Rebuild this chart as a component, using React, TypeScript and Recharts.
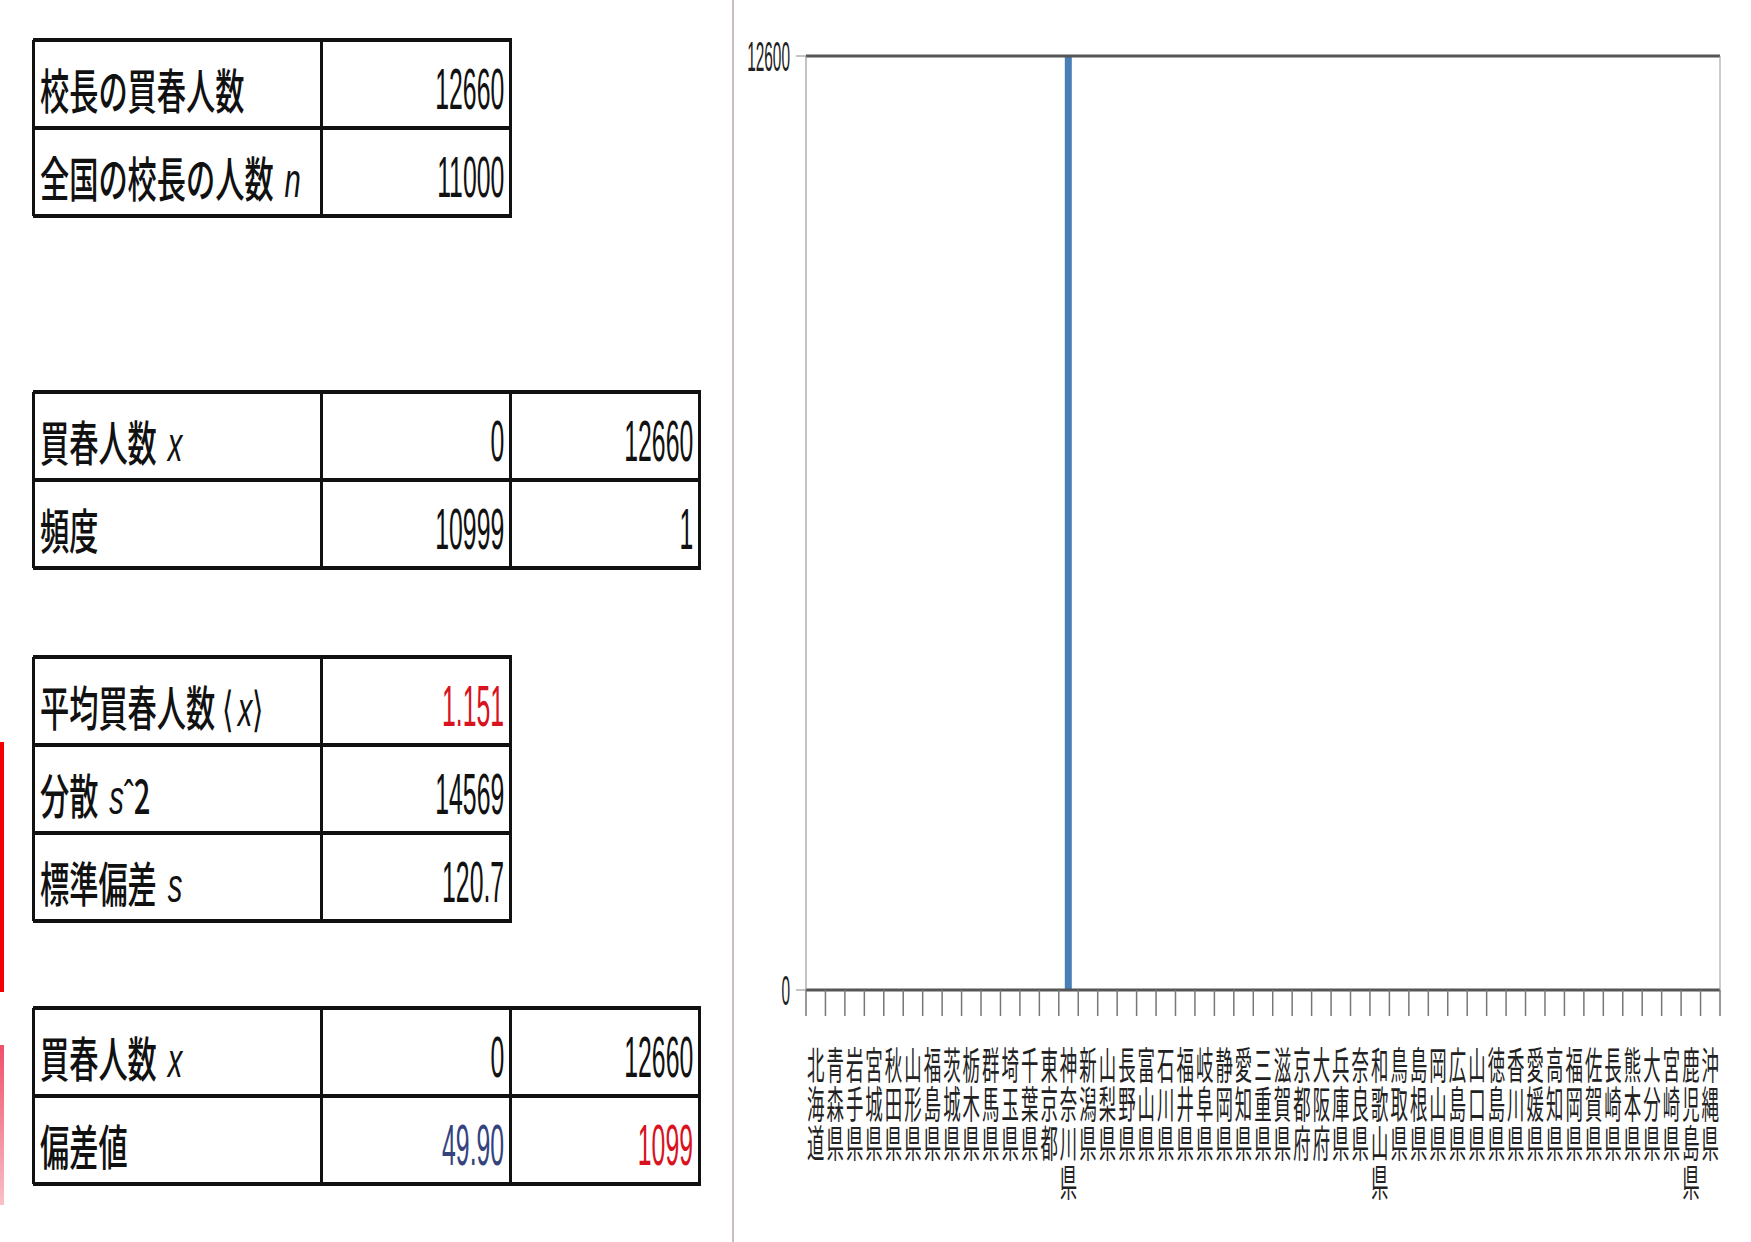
import React from 'react';
import { BarChart, Bar, XAxis, YAxis, ReferenceLine } from 'recharts';

// prefectures in the order they appear on the sheet
const PREFECTURES = [
  '北海道', '青森県', '岩手県', '宮城県', '秋田県', '山形県', '福島県', '茨城県', '栃木県', '群馬県',
  '埼玉県', '千葉県', '東京都', '神奈川県', '新潟県', '山梨県', '長野県', '富山県', '石川県', '福井県',
  '岐阜県', '静岡県', '愛知県', '三重県', '滋賀県', '京都府', '大阪府', '兵庫県', '奈良県', '和歌山県',
  '鳥取県', '島根県', '岡山県', '広島県', '山口県', '徳島県', '香川県', '愛媛県', '高知県', '福岡県',
  '佐賀県', '長崎県', '熊本県', '大分県', '宮崎県', '鹿児島県', '沖縄県',
];
const COUNTS = [
  0, 0, 0, 0, 0, 0, 0, 0, 0, 0,
  0, 0, 0, 12660, 0, 0, 0, 0, 0, 0,
  0, 0, 0, 0, 0, 0, 0, 0, 0, 0,
  0, 0, 0, 0, 0, 0, 0, 0, 0, 0,
  0, 0, 0, 0, 0, 0, 0,
];
const Y_TICKS = [0, 12600];

type Part = string | { i: string };

const T1_LABELS: Part[][] = [['校長の買春人数'], ['全国の校長の人数 ', { i: 'n' }]];
const T1_VALUES = ['12660', '11000'];

const T2_LABELS: Part[][] = [['買春人数 ', { i: 'x' }], ['頻度']];
const T2_COL1 = ['0', '10999'];
const T2_COL2 = ['12660', '1'];

const T3_LABELS: Part[][] = [['平均買春人数 ⟨', { i: 'x' }, '⟩'], ['分散 ', { i: 's' }, 'ˆ2'], ['標準偏差 ', { i: 's' }]];
const T3_VALUES = ['1.151', '14569', '120.7'];
const T3_COLORS = ['#d8131f', '#111', '#111'];

const T4_LABELS: Part[][] = [['買春人数 ', { i: 'x' }], ['偏差値']];
const T4_COL1 = ['0', '49.90'];
const T4_COL1_COLORS = ['#111', '#34437e'];
const T4_COL2 = ['12660', '1099'];
const T4_COL2_COLORS = ['#111', '#d8131f'];

const ROW_H = 88;
const COLS3 = [33, 321, 510];
const COLS4 = [33, 321, 510, 699];

const chartData = PREFECTURES.map((name, i) => ({ name, value: COUNTS[i] }));

type Cell = { text: string; color?: string };
type Row = { label: Part[]; cells: Cell[] };

function Label({ parts }: { parts: Part[] }) {
  return (
    <span
      style={{
        display: 'inline-block',
        fontFamily: '"Noto Sans CJK JP", sans-serif',
        fontSize: 40,
        fontWeight: 500,
        transform: 'scale(0.73, 1.2)',
        transformOrigin: 'left center',
        whiteSpace: 'pre',
        color: '#111',
      }}
    >
      {parts.map((p, k) =>
        typeof p === 'string' ? (
          <span key={k}>{p}</span>
        ) : (
          <span key={k} style={{ fontFamily: '"Liberation Sans", sans-serif', fontStyle: 'italic', marginLeft: 6 }}>
            {p.i}
          </span>
        )
      )}
    </span>
  );
}

function SheetTable({ top, cols, rows }: { top: number; cols: number[]; rows: Row[] }) {
  const left = cols[0];
  const right = cols[cols.length - 1];
  const bottom = top + rows.length * ROW_H;
  const els: React.ReactNode[] = [];
  rows.forEach((r, ri) => {
    const y = top + ri * ROW_H;
    els.push(
      <div
        key={`l${ri}`}
        style={{ position: 'absolute', left: left + 7, top: y + 5, height: ROW_H, display: 'flex', alignItems: 'center' }}
      >
        <Label parts={r.label} />
      </div>
    );
    r.cells.forEach((c, ci) => {
      const cr = cols[ci + 2];
      els.push(
        <div
          key={`c${ri}-${ci}`}
          style={{
            position: 'absolute',
            left: cols[ci + 1],
            width: cr - cols[ci + 1] - 6,
            top: y + 5,
            height: ROW_H,
            display: 'flex',
            alignItems: 'center',
            justifyContent: 'flex-end',
          }}
        >
          <span
            style={{
              display: 'inline-block',
              fontFamily: '"Liberation Sans", Arial, sans-serif',
              fontSize: 40,
              transform: 'scale(0.62, 1.45)',
              transformOrigin: 'right center',
              color: c.color || '#111',
            }}
          >
            {c.text}
          </span>
        </div>
      );
    });
  });
  for (let ri = 0; ri <= rows.length; ri++) {
    els.push(
      <div
        key={`h${ri}`}
        style={{ position: 'absolute', left, top: top + ri * ROW_H - 2, width: right - left + 2, height: 4, background: '#111' }}
      />
    );
  }
  cols.forEach((cx, k) => {
    els.push(
      <div
        key={`v${k}`}
        style={{ position: 'absolute', left: cx - 1, top, width: 3, height: bottom - top, background: '#111' }}
      />
    );
  });
  return <>{els}</>;
}

const BAND = 914 / PREFECTURES.length;

// category ticks sit on the band edges (Excel style), one character per line
function PrefTick(props: any) {
  const { x, y, payload } = props;
  const index = props.index ?? payload.index ?? 0;
  const chars = String(payload.value).split('');
  return (
    <g>
      <line x1={x - BAND / 2} x2={x - BAND / 2} y1={y} y2={y + 26} stroke="#777" strokeWidth={1.5} />
      {index === PREFECTURES.length - 1 && (
        <line x1={x + BAND / 2} x2={x + BAND / 2} y1={y} y2={y + 26} stroke="#777" strokeWidth={1.5} />
      )}
      {chars.map((c, i) => (
        <text
          key={i}
          x={0}
          y={0}
          transform={`translate(${x},${y + 72 + i * 39}) scale(0.58,1.25)`}
          textAnchor="middle"
          dominantBaseline="central"
          fontSize={30}
          fontFamily='"Noto Sans CJK JP", sans-serif'
          fill="#222"
        >
          {c}
        </text>
      ))}
    </g>
  );
}

function ValueTick(props: any) {
  const { x, y, payload } = props;
  return (
    <text
      x={0}
      y={0}
      transform={`translate(${x},${y}) scale(0.7,1.9)`}
      textAnchor="end"
      dominantBaseline="central"
      fontSize={22}
      fontFamily='"Liberation Sans", Arial, sans-serif'
      fill="#222"
    >
      {payload.value}
    </text>
  );
}

export default function App() {
  return (
    <div
      style={{
        position: 'absolute',
        left: 0,
        top: 0,
        width: 1751,
        height: 1242,
        background: '#fff',
        overflow: 'hidden',
      }}
    >
      <SheetTable
        top={40}
        cols={COLS3}
        rows={T1_LABELS.map((label, i) => ({ label, cells: [{ text: T1_VALUES[i] }] }))}
      />
      <SheetTable
        top={392}
        cols={COLS4}
        rows={T2_LABELS.map((label, i) => ({ label, cells: [{ text: T2_COL1[i] }, { text: T2_COL2[i] }] }))}
      />
      <SheetTable
        top={657}
        cols={COLS3}
        rows={T3_LABELS.map((label, i) => ({ label, cells: [{ text: T3_VALUES[i], color: T3_COLORS[i] }] }))}
      />
      <SheetTable
        top={1008}
        cols={COLS4}
        rows={T4_LABELS.map((label, i) => ({
          label,
          cells: [
            { text: T4_COL1[i], color: T4_COL1_COLORS[i] },
            { text: T4_COL2[i], color: T4_COL2_COLORS[i] },
          ],
        }))}
      />

      {/* red strip at the left edge */}
      <div style={{ position: 'absolute', left: 0, top: 742, width: 4, height: 250, background: '#f40000' }} />
      <div
        style={{
          position: 'absolute',
          left: 0,
          top: 1045,
          width: 4,
          height: 160,
          background: 'linear-gradient(#f0506a, #f8c0c8)',
        }}
      />
      {/* divider between sheet and chart */}
      <div style={{ position: 'absolute', left: 732, top: 0, width: 2, height: 1242, background: '#c9bcc4' }} />

      <div style={{ position: 'absolute', left: 700, top: 0 }}>
        <BarChart
          width={1051}
          height={1242}
          data={chartData}
          margin={{ top: 56, right: 30, bottom: 12, left: 6 }}
          barCategoryGap={0}
        >
          <XAxis
            dataKey="name"
            interval={0}
            height={240}
            tickLine={false}
            tickSize={0}
            tickMargin={0}
            axisLine={{ stroke: '#555', strokeWidth: 3 }}
            tick={(p: any) => <PrefTick {...p} />}
          />
          <YAxis
            yAxisId="left"
            width={100}
            domain={[0, 12600]}
            ticks={Y_TICKS}
            allowDataOverflow
            tickSize={10}
            tickMargin={6}
            tickLine={{ stroke: '#888' }}
            axisLine={{ stroke: '#888' }}
            tick={(p: any) => <ValueTick {...p} />}
          />
          <YAxis
            yAxisId="right"
            orientation="right"
            width={1}
            domain={[0, 12600]}
            tick={false}
            tickLine={false}
            axisLine={{ stroke: '#999' }}
          />
          <ReferenceLine yAxisId="left" y={12600} stroke="#555" strokeWidth={3} />
          <Bar yAxisId="left" dataKey="value" fill="#4a7eb6" barSize={7} isAnimationActive={false} />
        </BarChart>
      </div>
    </div>
  );
}
